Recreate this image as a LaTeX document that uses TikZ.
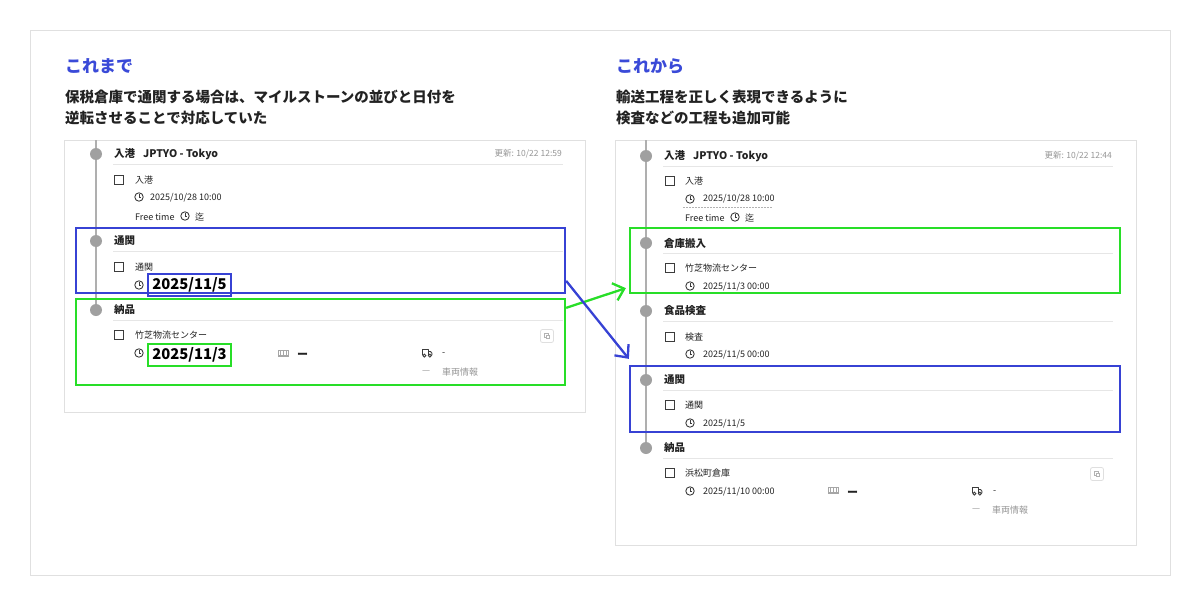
\documentclass[tikz,border=0pt]{standalone}
\usepackage{fontspec}
\setmainfont{Noto Sans CJK JP}
\usetikzlibrary{arrows.meta,calc}
\definecolor{hlblue}{RGB}{55,66,212}
\definecolor{hlgreen}{RGB}{40,222,40}
\definecolor{ttlblue}{RGB}{58,74,216}
\definecolor{txtdark}{RGB}{34,34,34}
\definecolor{icc}{RGB}{60,60,60}
\definecolor{sepc}{RGB}{230,230,230}
\definecolor{panelc}{RGB}{224,224,224}
\definecolor{dotc}{RGB}{160,160,160}
\definecolor{tlc}{RGB}{175,175,175}
\definecolor{mutec}{RGB}{150,150,150}
\newcommand{\fsz}[1]{\fontsize{#1}{#1}\selectfont}
\tikzset{
  ttl/.style={anchor=west,inner sep=0,font=\bfseries\fsz{17},text=ttlblue},
  lead/.style={anchor=west,inner sep=0,font=\bfseries\fsz{14.5},text=txtdark},
  hdr/.style={anchor=west,inner sep=0,font=\bfseries\fsz{10.5},text=txtdark},
  sm/.style={anchor=west,inner sep=0,font=\fsz{9},text=txtdark},
  mute/.style={anchor=west,inner sep=0,font=\fsz{9},text=mutec},
  upd/.style={anchor=east,inner sep=0,font=\fsz{8.5},text=mutec},
  barmark/.style={anchor=west,inner sep=0,font=\bfseries\fsz{11},text=txtdark},
  sepline/.style={draw=sepc,line width=1pt},
  panelbox/.style={draw=panelc,line width=1pt},
  dotnode/.style={circle,fill=dotc,minimum size=12pt,inner sep=0},
  tline/.style={draw=tlc,line width=1.2pt},
  hlbox/.style={draw,line width=2.3pt,inner sep=0,minimum width=489pt},
  bigdate/.style={font=\bfseries\fsz{14.8},text=black,inner sep=0,draw,line width=1.8pt,minimum width=83pt,minimum height=22pt},
  hlarrow/.style={line width=2.3pt,-{Straight Barb[length=10pt,width=18pt]}},
  pics/clockic/.style={code={
    \draw[line width=0.9pt,draw=icc] (0,0) circle (4.2);
    \draw[line width=0.9pt,draw=icc] (0,-2.6)--(0,0)--(2.1,0);}},
  pics/chkbox/.style={code={
    \draw[line width=1pt,draw=icc] (-4.6,-4.6) rectangle (4.6,4.6);}},
  pics/barcode/.style={code={
    \fill[gray!70] (-5.5,-3.5) rectangle (5.5,3.5);
    \foreach \i in {-3.5,-2,-0.5,1,2.5,4}{\draw[white,line width=0.5pt] (\i,-2.2)--(\i,2.2);}}},
  pics/truck/.style={code={
    \draw[line width=0.9pt,draw=icc,line join=round] (-5,2) -- (-5,-3.5) -- (1,-3.5) -- (1,2);
    \draw[line width=0.9pt,draw=icc,line join=round] (1,-1.5) -- (3.5,-1.5) -- (5,0.3) -- (5,2) -- (4.2,2);
    \draw[line width=0.9pt,draw=icc] (-2.6,2.6) circle (1.5);
    \draw[line width=0.9pt,draw=icc] (2.8,2.6) circle (1.5);}},
  pics/copybtn/.style={code={
    \draw[draw=gray!25,line width=0.8pt,rounded corners=2pt] (-6.5,-6.5) rectangle (6.5,6.5);
    \draw[draw=gray!60,line width=0.6pt] (-2.6,-2.6) rectangle (1,1);
    \draw[draw=gray!60,line width=0.6pt,fill=white] (-1,-1) rectangle (2.6,2.6);}}
}
\begin{document}
\begin{tikzpicture}[x=1pt,y=-1pt]
\useasboundingbox (0,0) rectangle (1200,605);
\fill[white] (0,0) rectangle (1200,605);
\draw[panelbox] (30,30) rectangle (1170,575);

% ================= LEFT =================
\node[ttl] (lt) at (65,66) {これまで};
\node[lead] (ll1) at (65,97) {保税倉庫で通関する場合は、マイルストーンの並びと日付を};
\node[lead] (ll2) at (65,118) {逆転させることで対応していた};
\draw[panelbox] (64,140) rectangle (585,412);

\coordinate (ltop) at (96,140);
\coordinate (lbot) at (96,310);
\draw[tline] (ltop) -- (lbot);
\node[dotnode] (ld1) at (96,154) {};
\node[dotnode] (ld2) at (96,241) {};
\node[dotnode] (ld3) at (lbot) {};

\node[hdr] (lh1) at (114,154) {入港\hspace{8pt}JPTYO - Tokyo};
\node[upd] (lu1) at (562,154) {更新: 10/22 12:59};
\draw[sepline] (113,164) -- (563,164);
\pic at (119,180) {chkbox};
\node[sm] (la1) at (135,180) {入港};
\pic at (139,197) {clockic};
\node[sm] (lb1) at (150,198) {2025/10/28 10:00};
\node[sm] (lf1) at (135,217) {Free time};
\pic at (185,216) {clockic};
\node[sm] (lg1) at (195,217) {迄};

\node[hlbox,draw=hlblue,minimum height=65pt] (lblue) at (320.5,260.5) {};
\node[hdr] (lh2) at (114,241) {通関};
\draw[sepline] (113,251) -- (563,251);
\pic at (119,267) {chkbox};
\node[sm] (la2) at (135,267) {通関};
\pic at (139,285) {clockic};
\node[bigdate,draw=hlblue] (ldate2) at (189.5,285) {2025/11/5};

\node[hlbox,draw=hlgreen,minimum height=86pt] (lgreen) at (320.5,342) {};
\node[hdr] (lh3) at (114,310) {納品};
\draw[sepline] (113,320) -- (563,320);
\pic at (119,335) {chkbox};
\node[sm] (la3) at (135,335) {竹芝物流センター};
\pic at (139,353) {clockic};
\node[bigdate,draw=hlgreen] (ldate3) at (189.5,355) {2025/11/3};
\pic at (283,353) {barcode};
\node[barmark] (lbar) at (297,356) {ー};
\pic at (427,353) {truck};
\node[sm] (ltr) at (442,354) {-};
\node[mute] (ldash) at (422,372) {—};
\node[mute] (lveh) at (442,372) {車両情報};
\pic at (547,336) {copybtn};

% ================= RIGHT =================
\node[ttl] (rt) at (616,66) {これから};
\node[lead] (rl1) at (616,97) {輸送工程を正しく表現できるように};
\node[lead] (rl2) at (616,118) {検査などの工程も追加可能};
\draw[panelbox] (615,140) rectangle (1136,545);

\coordinate (rtop) at (646,140);
\coordinate (rbot) at (646,448);
\draw[tline] (rtop) -- (rbot);
\node[dotnode] (rd1) at (646,156) {};
\node[dotnode] (rd2) at (646,243) {};
\node[dotnode] (rd3) at (646,311) {};
\node[dotnode] (rd4) at (646,380) {};
\node[dotnode] (rd5) at (rbot) {};

\node[hdr] (rh1) at (664,156) {入港\hspace{8pt}JPTYO - Tokyo};
\node[upd] (ru1) at (1112,156) {更新: 10/22 12:44};
\draw[sepline] (663,166) -- (1113,166);
\pic at (670,181) {chkbox};
\node[sm] (ra1) at (685,181) {入港};
\pic at (690,199) {clockic};
\node[sm] (rb1) at (703,199) {2025/10/28 10:00};
\draw[draw=gray!60,line width=0.6pt,dash pattern=on 1.5pt off 1.5pt] (683,207) -- (772,207);
\node[sm] (rf1) at (685,218) {Free time};
\pic at (735,217) {clockic};
\node[sm] (rg1) at (745,218) {迄};

\node[hlbox,draw=hlgreen,minimum height=65pt,minimum width=490pt] (rgreen) at (875,260.5) {};
\node[hdr] (rh2) at (664,243) {倉庫搬入};
\draw[sepline] (663,253) -- (1113,253);
\pic at (670,268) {chkbox};
\node[sm] (ra2) at (685,268) {竹芝物流センター};
\pic at (690,286) {clockic};
\node[sm] (rb2) at (703,287) {2025/11/3 00:00};

\node[hdr] (rh3) at (664,311) {食品検査};
\draw[sepline] (663,321) -- (1113,321);
\pic at (670,337) {chkbox};
\node[sm] (ra3) at (685,337) {検査};
\pic at (690,354) {clockic};
\node[sm] (rb3) at (703,355) {2025/11/5 00:00};

\node[hlbox,draw=hlblue,minimum height=66pt,minimum width=490pt] (rblue) at (875,399) {};
\node[hdr] (rh4) at (664,380) {通関};
\draw[sepline] (663,390) -- (1113,390);
\pic at (670,405) {chkbox};
\node[sm] (ra4) at (685,405) {通関};
\pic at (690,423) {clockic};
\node[sm] (rb4) at (703,424) {2025/11/5};

\node[hdr] (rh5) at (664,448) {納品};
\draw[sepline] (663,458) -- (1113,458);
\pic at (670,473) {chkbox};
\node[sm] (ra5) at (685,473) {浜松町倉庫};
\pic at (690,491) {clockic};
\node[sm] (rb5) at (703,492) {2025/11/10 00:00};
\pic at (833,490) {barcode};
\node[barmark] (rbar) at (847,494) {ー};
\pic at (977,491) {truck};
\node[sm] (rtr) at (993,492) {-};
\node[mute] (rdash) at (972,510) {—};
\node[mute] (rveh) at (992,510) {車両情報};
\pic at (1097,474) {copybtn};

% ================= ARROWS =================
\draw[hlarrow,draw=hlgreen] ($(lgreen.north east)+(0,10)$) -- ($(rgreen.south west)+(-3,-6)$);
\draw[hlarrow,draw=hlblue] ($(lblue.north east)+(0,54)$) -- ($(rblue.north west)+(0,-6)$);
\end{tikzpicture}
\end{document}
